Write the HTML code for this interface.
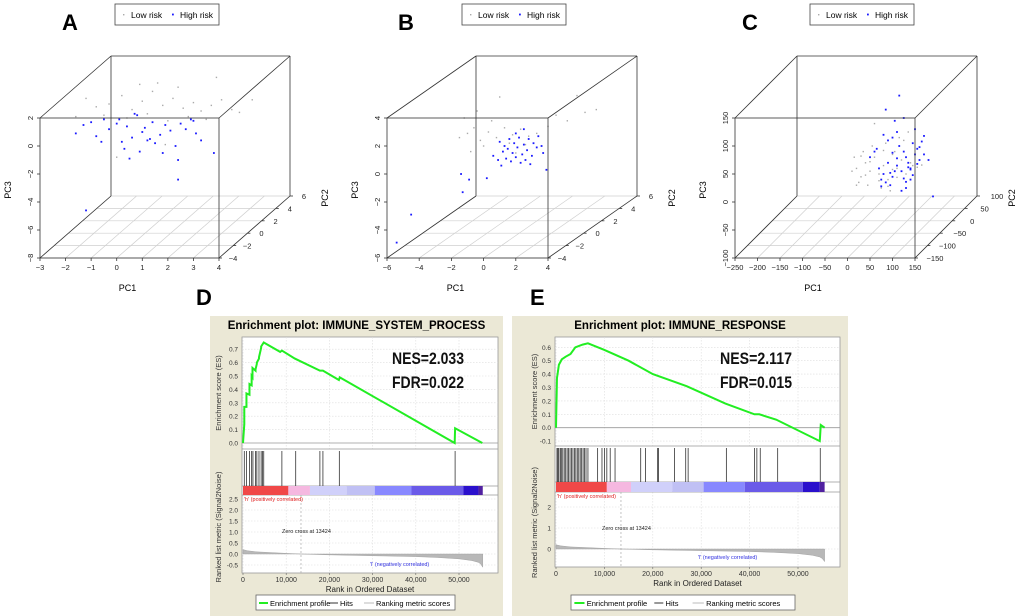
<!DOCTYPE html>
<html><head><meta charset="utf-8"><style>
html,body{margin:0;padding:0;background:#fff;}
svg{display:block;font-family:"Liberation Sans",Arial,sans-serif;}
</style></head><body>
<svg id="fig" width="1020" height="616" viewBox="0 0 1020 616" xmlns="http://www.w3.org/2000/svg">
<rect x="0" y="0" width="1020" height="616" fill="#fff"/>
<g id="g3d"></g>
<g id="ggsea"></g>
<text x="196" y="305" font-size="22" font-weight="bold">D</text>
<text x="530" y="305" font-size="22" font-weight="bold">E</text>
</svg>
<script>
// ===== 3D PCA data (PC1, PC3 in front-plane data units) =====
const aLowX=[-1.2,-0.8,-0.3,0.2,0.6,1.0,1.4,1.8,2.2,2.6,3.0,3.3,3.7,4.1,4.5,5.3,-0.5,0.4,1.2,2.0,2.8,3.5,-1.6,0.9,1.6,2.4,3.9,4.8,0.0,1.9];
const aLowZ=[3.4,2.8,3.0,3.6,2.6,3.2,3.9,2.9,3.4,2.7,3.1,2.5,2.9,3.3,2.6,3.3,2.2,2.0,2.3,1.8,2.1,1.9,2.1,4.4,4.5,4.2,4.9,2.4,-0.8,0.1];
const aHighX=[-1.6,-1.3,-1.0,-0.8,-0.5,-0.3,0.0,0.2,0.4,0.6,0.8,1.0,1.2,1.4,1.5,1.7,1.9,2.1,2.3,2.5,2.7,2.9,3.1,3.3,-0.6,0.3,0.9,1.3,1.8,2.4,0.1,0.7,1.1,3.0,2.4,-1.2,3.8,0.5];
const aHighZ=[0.9,1.5,1.7,0.7,1.9,1.2,1.6,0.3,1.4,0.6,2.2,1.0,0.4,1.7,0.2,0.8,1.5,1.1,0.0,1.6,1.2,1.9,0.9,0.4,0.3,-0.2,-0.4,0.5,-0.5,-1.0,1.9,2.3,1.3,1.8,-2.4,-4.6,-0.5,-0.9];
const bLowX=[-1.5,-1.0,-0.6,-0.2,0.3,0.8,1.3,1.8,2.3,2.8,3.3,-0.4,0.5,1.0,-1.2,4.5,5.2,6.3,7.0,4.0,5.8,0.0,1.6,2.6,-0.8,2.0];
const bLowZ=[2.6,2.9,3.3,2.4,3.0,2.6,3.3,2.8,3.2,2.7,2.9,4.5,3.8,5.5,4.0,4.2,3.8,4.4,4.6,3.4,5.6,2.0,2.2,2.1,1.6,1.5];
const bHighX=[1.0,1.3,1.6,1.9,2.2,2.5,2.8,3.1,3.4,1.2,1.5,1.8,2.1,2.4,2.7,3.0,3.3,1.4,1.7,2.0,2.3,2.6,2.9,3.6,0.6,0.9,1.1,-1.4,-0.9,0.2,-1.3,3.9,3.7,-4.5,-5.4,2.0,2.5];
const bHighZ=[2.3,2.0,2.5,2.2,2.6,2.1,2.5,2.2,2.7,1.6,1.8,1.5,1.9,1.4,1.7,1.3,1.9,1.1,0.9,1.2,0.8,1.0,0.7,2.0,1.3,1.0,0.6,0.0,-0.4,-0.3,-1.3,0.3,1.5,-2.9,-4.9,2.9,3.2];
const cLowX=[20,30,40,50,60,70,80,90,100,110,120,130,140,10,25,45,65,85,105,125,145,35,55,75,95,115,15,135,155,60,40,70,100,50,90,30,80,110,165,20];
const cLowZ=[60,45,70,55,80,50,65,40,85,60,75,50,70,55,35,30,95,105,90,110,65,90,100,25,20,115,80,125,62,140,48,38,58,72,28,82,92,44,66,30];
const cHighX=[70,80,90,100,110,120,130,140,150,160,75,85,95,105,115,125,135,145,155,170,80,90,100,110,120,130,140,65,180,60,105,125,150,170,190,85,115,50,95,135,145,155,110,100,125,140,160,75,165,130];
const cHighZ=[60,50,70,45,65,55,80,60,85,75,40,35,30,55,100,90,70,105,95,85,120,110,115,125,20,25,40,95,75,90,145,150,130,118,10,165,190,80,52,62,48,68,78,88,42,58,98,28,108,36];

const NS="http://www.w3.org/2000/svg";
function mk(parent,tag,attrs,text){const e=document.createElementNS(NS,tag);for(const k in attrs)e.setAttribute(k,attrs[k]);if(text!==undefined)e.textContent=text;parent.appendChild(e);return e;}

const panels3d=[
 {id:'a',label:'A',lx:62,legend:[115,4],l:40,r:219,t:118,b:258,dx:71,dy:-62,x0:-3,x1:4,xt:[-3,-2,-1,0,1,2,3,4],z0:-8,z1:2,zt:[2,0,-2,-4,-6,-8],yt:[-4,-2,0,2,4,6],y0:-4,y1:6,lowX:aLowX,lowZ:aLowZ,hiX:aHighX,hiZ:aHighZ,yoff:14},
 {id:'b',label:'B',lx:398,legend:[462,4],l:387,r:548,t:118,b:258,dx:89,dy:-62,x0:-6,x1:4,xt:[-6,-4,-2,0,2,4],z0:-6,z1:4,zt:[4,2,0,-2,-4,-6],yt:[-4,-2,0,2,4,6],y0:-4,y1:6,lowX:bLowX,lowZ:bLowZ,hiX:bHighX,hiZ:bHighZ,yoff:14},
 {id:'c',label:'C',lx:742,legend:[810,4],l:735,r:915,t:118,b:258,dx:62,dy:-62,x0:-250,x1:150,xt:[-250,-200,-150,-100,-50,0,50,100,150],z0:-100,z1:150,zt:[150,100,50,0,-50,-100],yt:[-150,-100,-50,0,50,100],y0:-150,y1:100,lowX:cLowX,lowZ:cLowZ,hiX:cHighX,hiZ:cHighZ,yoff:20}
];
const g3=document.getElementById('g3d');
panels3d.forEach(p=>{
 const g=mk(g3,'g',{});
 
 
 const sx=v=>p.l+(v-p.x0)/(p.x1-p.x0)*(p.r-p.l);
 const sz=v=>p.b-(v-p.z0)/(p.z1-p.z0)*(p.b-p.t);
 const fy=v=>(v-p.y0)/(p.y1-p.y0);
 p.xt.forEach(v=>{mk(g,'line',{x1:sx(v),y1:p.b,x2:sx(v)+p.dx,y2:p.b+p.dy,stroke:'#cfcfcf','stroke-width':0.7});});
 p.yt.forEach(v=>{const f=fy(v);mk(g,'line',{x1:p.l+f*p.dx,y1:p.b+f*p.dy,x2:p.r+f*p.dx,y2:p.b+f*p.dy,stroke:'#cfcfcf','stroke-width':0.7});});
 const L=(x1,y1,x2,y2)=>mk(g,'line',{x1,y1,x2,y2,stroke:'#333','stroke-width':0.8});
 L(p.l+p.dx,p.t+p.dy,p.r+p.dx,p.t+p.dy);
 L(p.l+p.dx,p.t+p.dy,p.l+p.dx,p.b+p.dy);
 L(p.r+p.dx,p.t+p.dy,p.r+p.dx,p.b+p.dy);
 L(p.l,p.t,p.l+p.dx,p.t+p.dy);L(p.r,p.t,p.r+p.dx,p.t+p.dy);
 L(p.l,p.b,p.l+p.dx,p.b+p.dy);L(p.r,p.b,p.r+p.dx,p.b+p.dy);
 p.lowX.forEach((v,i)=>{const c=mk(g,'rect',{x:sx(v)-0.7,y:sz(p.lowZ[i])-0.7,width:1.4,height:1.4,fill:'#aaaaaa'});
  
  });
 p.hiX.forEach((v,i)=>{const c=mk(g,'rect',{x:sx(v)-0.9,y:sz(p.hiZ[i])-0.9,width:1.8,height:1.8,fill:'#1a1aff'});
  
  });
 mk(g,'rect',{x:p.l,y:p.t,width:p.r-p.l,height:p.b-p.t,fill:'none',stroke:'#333','stroke-width':0.8});
 p.xt.forEach(v=>{L(sx(v),p.b,sx(v),p.b+3);const t=mk(g,'text',{x:sx(v),y:p.b+12,'font-size':7.5,'text-anchor':'middle',fill:'#222'},String(v).replace('-','−'));
  
  });
 p.zt.forEach(v=>{L(p.l-3,sz(v),p.l,sz(v));const t=mk(g,'text',{x:0,y:0,'font-size':7.5,'text-anchor':'middle',fill:'#222',transform:`translate(${p.l-7},${sz(v)}) rotate(-90)`},String(v).replace('-','−'));
  
  });
 p.yt.forEach(v=>{const f=fy(v);const x=p.r+f*p.dx,y=p.b+f*p.dy;L(x,y,x+3,y);const t=mk(g,'text',{x:x+p.yoff,y:y+3,'font-size':7.5,'text-anchor':'middle',fill:'#222'},String(v).replace('-','−'));
  
  });
 let t=mk(g,'text',{x:(p.l+p.r)/2+(p.id==='a'?-2:-12),y:291,'font-size':9,'text-anchor':'middle'},'PC1');
 
 t=mk(g,'text',{x:0,y:0,'font-size':9,'text-anchor':'middle',transform:`translate(${p.l-29},${190}) rotate(-90)`},'PC3');
 
 t=mk(g,'text',{x:0,y:0,'font-size':9,'text-anchor':'middle',transform:`translate(${p.r+p.dx+38},${198}) rotate(-90)`},'PC2');
 
 t=mk(g,'text',{x:p.lx,y:30,'font-size':22,'font-weight':'bold'},p.label);
 
 const lg=mk(g,'g',{});
 
 const [lx,ly]=p.legend;
 mk(lg,'rect',{x:lx,y:ly,width:104,height:21,fill:'#fff',stroke:'#444','stroke-width':0.8});
 mk(lg,'rect',{x:lx+8,y:ly+10,width:1.4,height:1.4,fill:'#aaa'});
 mk(lg,'text',{x:lx+16,y:ly+14,'font-size':8.5},'Low risk');
 mk(lg,'rect',{x:lx+57,y:ly+9.6,width:1.8,height:1.8,fill:'#1a1aff'});
 mk(lg,'text',{x:lx+65,y:ly+14,'font-size':8.5},'High risk');
});

// ===== GSEA data =====
const dRank=[0,300,300,800,800,1500,1500,2000,2000,2200,2200,2900,2900,3200,3200,3700,3700,4200,4200,4800,8600,9000,12000,17800,18500,22200,22400,49000,49100,55400];
const dES=[0,0.14,0.27,0.27,0.37,0.36,0.44,0.43,0.5,0.49,0.56,0.54,0.55,0.59,0.6,0.63,0.64,0.71,0.72,0.75,0.68,0.69,0.63,0.54,0.54,0.47,0.49,0.0,0.11,0.0];
const dHits=[300,800,1500,2000,2300,2900,3200,3700,4200,4500,4800,9000,12200,17800,18500,22300,49100];
const eRank=[0,200,400,600,1200,2000,3000,4000,5500,6600,10000,15000,20000,27000,35000,41000,42000,45500,54500,54700,55500];
const eES=[0,0.37,0.42,0.47,0.51,0.53,0.55,0.6,0.62,0.63,0.58,0.5,0.4,0.31,0.18,0.1,0.1,0.06,-0.1,0.02,0.0];
const eHits=[200,400,600,900,1100,1400,1700,2000,2300,2600,2900,3200,3500,3800,4100,4400,4700,5000,5300,5600,5900,6200,6600,8600,9500,10000,10500,11200,12200,17500,18500,21000,21200,24500,26800,27300,35200,41000,41500,42200,45800,54600];
const metricRank=[0,1000,3000,6000,10000,13424,20000,30000,40000,45000,50000,53000,54500,55000,55500];
const metricVal=[0.2,0.15,0.1,0.07,0.03,0,-0.04,-0.08,-0.12,-0.16,-0.22,-0.3,-0.38,-0.45,-0.6];
const barEdges=[0,10500,15500,24000,30500,39000,51000,54500,55500];
const barColors=['#f04848','#f5b8e0','#d0d0fa','#c0c0f4','#8888ff','#6a5ae8','#2a10cc','#5020a0'];

const gseaPanels=[
 {id:'d',title:'Enrichment plot: IMMUNE_SYSTEM_PROCESS',px:210,pw:293,l:242,r:498,top:337,esB:449,hitB:486,barB:495,bot:573,x50:459,esTicks:[0,0.1,0.2,0.3,0.4,0.5,0.6,0.7],esZeroY:443,esPer:134,mTicks:[2.5,2,1.5,1,0.5,0,-0.5],mZeroY:554,mPer:22,rank:dRank,es:dES,hits:dHits,nes:'NES=2.033',fdr:'FDR=0.022',nx:392,lx:256,lw:199,lblX:221},
 {id:'e',title:'Enrichment plot: IMMUNE_RESPONSE',px:512,pw:336,l:555,r:840,top:337,esB:446,hitB:482,barB:492,bot:567,x50:798,esTicks:[-0.1,0,0.1,0.2,0.3,0.4,0.5,0.6],esZeroY:427.7,esPer:134,mTicks:[2,1,0],mZeroY:549,mPer:21,rank:eRank,es:eES,hits:eHits,nes:'NES=2.117',fdr:'FDR=0.015',nx:720,lx:571,lw:224,lblX:537}
];
const gg=document.getElementById('ggsea');
gseaPanels.forEach(p=>{
 const g=mk(gg,'g',{});
 
 const sx=v=>p.l+1+v/50000*(p.x50-p.l-1);
 const se=v=>p.esZeroY-v*p.esPer;
 const sm=v=>p.mZeroY-v*p.mPer;
 mk(g,'rect',{x:p.px,y:316,width:p.pw,height:300,fill:'#ebe8d6'});
 let t=mk(g,'text',{x:p.px+p.pw/2,y:329,'font-size':11.5,'font-weight':'bold','text-anchor':'middle'},p.title);
 
 mk(g,'rect',{x:p.l,y:p.top,width:p.r-p.l,height:p.bot-p.top,fill:'#fff',stroke:'#999','stroke-width':0.8});
 [0,10000,20000,30000,40000,50000].forEach(v=>{
  mk(g,'line',{x1:sx(v),y1:p.top,x2:sx(v),y2:p.esB,stroke:'#ddd','stroke-dasharray':'1.5,1.5','stroke-width':0.6});
  mk(g,'line',{x1:sx(v),y1:p.barB,x2:sx(v),y2:p.bot,stroke:'#ddd','stroke-dasharray':'1.5,1.5','stroke-width':0.6});
  mk(g,'line',{x1:sx(v),y1:p.bot,x2:sx(v),y2:p.bot+2,stroke:'#666','stroke-width':0.6});
  const tt=mk(g,'text',{x:sx(v),y:p.bot+9,'font-size':7,'text-anchor':'middle',fill:'#333'},v===0?'0':v.toLocaleString('en-US'));
  
 });
 p.esTicks.forEach(v=>{
  mk(g,'line',{x1:p.l,y1:se(v),x2:p.r,y2:se(v),stroke:v===0?'#999':'#ddd','stroke-dasharray':v===0?'':'1.5,1.5','stroke-width':v===0?0.8:0.6});
  const tt=mk(g,'text',{x:p.l-4,y:se(v)+2.5,'font-size':6.5,'text-anchor':'end',fill:'#333'},v.toFixed(1));
  
 });
 p.mTicks.forEach(v=>{
  mk(g,'line',{x1:p.l,y1:sm(v),x2:p.r,y2:sm(v),stroke:'#ddd','stroke-dasharray':'1.5,1.5','stroke-width':0.6});
  const tt=mk(g,'text',{x:p.l-4,y:sm(v)+2.5,'font-size':6.5,'text-anchor':'end',fill:'#333'},p.id==='d'?v.toFixed(1):String(v));
  
 });
 [p.esB,p.hitB,p.barB].forEach(y=>mk(g,'line',{x1:p.l,y1:y,x2:p.r,y2:y,stroke:'#999','stroke-width':0.8}));
 p.hits.forEach(h=>{const ln=mk(g,'line',{x1:sx(h),y1:p.esB+2,x2:sx(h),y2:p.hitB,stroke:'#333','stroke-width':0.8});
  });
 for(let i=0;i<barColors.length;i++){const r=mk(g,'rect',{x:sx(barEdges[i]),y:p.hitB,width:sx(barEdges[i+1])-sx(barEdges[i]),height:p.barB-p.hitB,fill:barColors[i]});
  }
 let d=`M${sx(metricRank[0])},${sm(0)}`;
 metricRank.forEach((r,i)=>{d+=` L${sx(r)},${sm(metricVal[i])}`;});
 d+=` L${sx(metricRank[metricRank.length-1])},${sm(0)} Z`;
 const ar=mk(g,'path',{d,fill:'#b8b8b8',stroke:'#999','stroke-width':0.4});
 
 mk(g,'line',{x1:sx(13424),y1:p.barB,x2:sx(13424),y2:p.bot,stroke:'#aaa','stroke-dasharray':'2,2','stroke-width':0.7});
 t=mk(g,'text',{x:sx(13424)-19,y:sm(p.id==='d'?1.05:1.0)+2,'font-size':5.5,fill:'#222'},'Zero cross at 13424');
 
 t=mk(g,'text',{x:p.l+2,y:p.barB+6,'font-size':5.5,fill:'#e02020'},"'h' (positively correlated)");
 
 t=mk(g,'text',{x:p.id==='d'?370:698,y:p.bot-(p.id==='d'?7:8),'font-size':5.5,fill:'#3030e0'},"'l' (negatively correlated)");
 
 const pts=p.rank.map((r,i)=>`${sx(r)},${se(p.es[i])}`).join(' ');
 const pl=mk(g,'polyline',{points:pts,fill:'none',stroke:'#22ee22','stroke-width':2});
 
 t=mk(g,'text',{x:p.nx,y:364,'font-size':17,fill:'#111',textLength:72,lengthAdjust:'spacingAndGlyphs','font-weight':'bold'},p.nes);
 
 t=mk(g,'text',{x:p.nx,y:388,'font-size':17,fill:'#111',textLength:72,lengthAdjust:'spacingAndGlyphs','font-weight':'bold'},p.fdr);
 
 t=mk(g,'text',{x:0,y:0,'font-size':7.5,'text-anchor':'middle',fill:'#333',transform:`translate(${p.lblX},${(p.top+p.esB)/2}) rotate(-90)`},'Enrichment score (ES)');
 
 t=mk(g,'text',{x:0,y:0,'font-size':7.5,'text-anchor':'middle',fill:'#333',transform:`translate(${p.lblX},${(p.esB+p.bot)/2+16}) rotate(-90)`},'Ranked list metric (Signal2Noise)');
 
 t=mk(g,'text',{x:(p.l+p.r)/2,y:p.bot+19,'font-size':8,'text-anchor':'middle',fill:'#222'},'Rank in Ordered Dataset');
 
 const lg=mk(g,'g',{});
 
 const ly=595;
 mk(lg,'rect',{x:p.lx,y:ly,width:p.lw,height:15,fill:'#fff',stroke:'#666','stroke-width':0.8});
 const s=p.lw/199;
 mk(lg,'line',{x1:p.lx+3*s,y1:ly+8,x2:p.lx+12*s,y2:ly+8,stroke:'#22ee22','stroke-width':2});
 mk(lg,'text',{x:p.lx+14*s,y:ly+11,'font-size':7.5},'Enrichment profile');
 mk(lg,'line',{x1:p.lx+74*s,y1:ly+8,x2:p.lx+82*s,y2:ly+8,stroke:'#333','stroke-width':1});
 mk(lg,'text',{x:p.lx+84*s,y:ly+11,'font-size':7.5},'Hits');
 mk(lg,'line',{x1:p.lx+108*s,y1:ly+8,x2:p.lx+118*s,y2:ly+8,stroke:'#bbb','stroke-width':1});
 mk(lg,'text',{x:p.lx+120*s,y:ly+11,'font-size':7.5},'Ranking metric scores');
});
</script>
</body></html>
